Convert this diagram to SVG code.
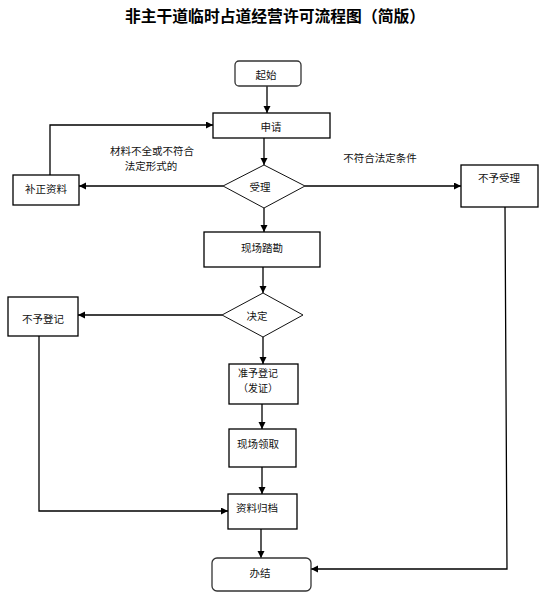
<svg xmlns="http://www.w3.org/2000/svg" width="559" height="600" viewBox="0 0 559 600">
<style>
.box{fill:#fff;stroke:#000;stroke-width:1.3}
.rbox{fill:#fff;stroke:#333;stroke-width:1.3}
.dia{fill:#fff;stroke:#111;stroke-width:1}
.t{font-family:"Noto Sans CJK SC","Noto Sans",sans-serif;font-size:10.5px;fill:#111;text-anchor:middle;dominant-baseline:central}
.s{font-size:10px}
.title{font-family:"Noto Sans CJK SC","Noto Sans",sans-serif;font-size:15.8px;font-weight:bold;fill:#000;text-anchor:middle;dominant-baseline:central}
.c{fill:none;stroke:#000;stroke-width:1.3}
</style>
<defs>
<marker id="ah" markerUnits="userSpaceOnUse" markerWidth="8" markerHeight="8" refX="7" refY="3.5" orient="auto">
<path d="M0,0 L7,3.5 L0,7 z" fill="#000"/>
</marker>
</defs>
<rect width="559" height="600" fill="#fff"/>
<text class="title" x="275" y="15">非主干道临时占道经营许可流程图（简版）</text>

<g id="connectors">
<path class="c" d="M267,86 V113" marker-end="url(#ah)"/>
<path class="c" d="M264,138 V165" marker-end="url(#ah)"/>
<path class="c" d="M223,186 H79" marker-end="url(#ah)"/>
<path class="c" d="M50,175 V125 H213" marker-end="url(#ah)"/>
<path class="c" d="M305,186 H461" marker-end="url(#ah)"/>
<path class="c" d="M264,208 V232" marker-end="url(#ah)"/>
<path class="c" d="M263,267 V293" marker-end="url(#ah)"/>
<path class="c" d="M222,315 H78" marker-end="url(#ah)"/>
<path class="c" d="M263,337 V364" marker-end="url(#ah)"/>
<path class="c" d="M262,404 V429" marker-end="url(#ah)"/>
<path class="c" d="M262,467 V494" marker-end="url(#ah)"/>
<path class="c" d="M39,336 V511 H228" marker-end="url(#ah)"/>
<path class="c" d="M261,529 V558" marker-end="url(#ah)"/>
<path class="c" d="M505,207 L507,569 H311" marker-end="url(#ah)"/>
<text class="t" x="152" y="150">材料不全或不符合</text>
<text class="t" x="151" y="165">法定形式的</text>
<text class="t" x="380" y="157">不符合法定条件</text>
</g>

<g id="start"><rect class="rbox" x="235" y="61" width="66" height="25" rx="4"/><text class="t" x="266" y="74">起始</text></g>
<g id="apply"><rect class="box" x="213" y="113" width="117" height="25"/><text class="t" x="271" y="126">申请</text></g>
<g id="accept"><polygon class="dia" points="264,165 305,186 264,208 223,186"/><text class="t" x="260" y="186">受理</text></g>
<g id="supplement"><rect class="box" x="13" y="175" width="66" height="30"/><text class="t" x="46" y="188">补正资料</text></g>
<g id="reject"><rect class="box" x="461" y="165" width="77" height="42"/><text class="t" x="499" y="177">不予受理</text></g>
<g id="survey"><rect class="box" x="204" y="232" width="116" height="35"/><text class="t" x="262" y="247">现场踏勘</text></g>
<g id="decide"><polygon class="dia" points="263,293 303,315 263,337 222,315"/><text class="t" x="257" y="315">决定</text></g>
<g id="noreg"><rect class="box" x="8" y="297" width="70" height="39"/><text class="t" x="43" y="318">不予登记</text></g>
<g id="approve"><rect class="box" x="229" y="364" width="69" height="40"/><text class="t s" x="258" y="372">准予登记</text><text class="t s" x="258" y="387">（发证）</text></g>
<g id="collect"><rect class="box" x="229" y="429" width="67" height="38"/><text class="t" x="258" y="443">现场领取</text></g>
<g id="archive"><rect class="box" x="228" y="494" width="69" height="35"/><text class="t" x="257" y="507">资料归档</text></g>
<g id="finish"><rect class="rbox" x="212" y="558" width="99" height="33" rx="5"/><text class="t" x="260" y="572">办结</text></g>
</svg>
